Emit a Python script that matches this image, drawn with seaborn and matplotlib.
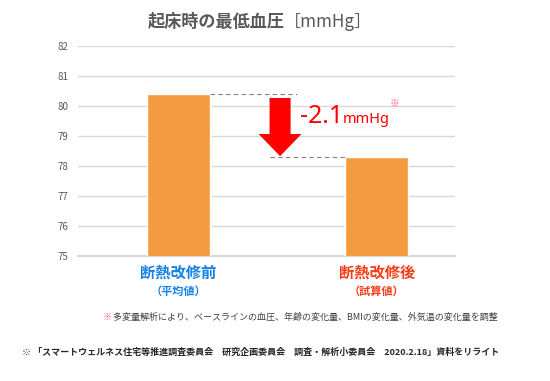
"""起床時の最低血圧: 断熱改修前後の比較棒グラフ."""

import matplotlib.pyplot as plt
import pandas as pd
import seaborn as sns
from matplotlib.patches import FancyArrow
from matplotlib.transforms import blended_transform_factory

# data
categories = ["断熱改修前", "断熱改修後"]
sub_labels = ["（平均値）", "（試算値）"]
values = [80.4, 78.3]
y_ticks = [75, 76, 77, 78, 79, 80, 81, 82]

title_main = "起床時の最低血圧"
title_unit = "［mmHg］"
note_1 = " 多変量解析により、ベースラインの血圧、年齢の変化量、BMIの変化量、外気温の変化量を調整"
note_2 = "※ 「スマートウェルネス住宅等推進調査委員会　研究企画委員会　調査・解析小委員会　2020.2.18」資料をリライト"

BAR_COLOR = "#F29B41"
LABEL_COLORS = ["#1682E3", "#F53D17"]
GRAY = "#595959"
RED = "#FF0000"
PINK = "#FF5C86"

sns.set_theme(style="white")
plt.rcParams["font.family"] = ["Noto Sans CJK JP", "DejaVu Sans"]

df = pd.DataFrame({"group": categories, "value": values})

fig = plt.figure(figsize=(5.5, 3.81), dpi=100)
ax = fig.add_axes([0.1418, 0.328, 0.6855, 0.551])

bar_w = 0.317
sns.barplot(data=df, x="group", y="value", color=BAR_COLOR, width=bar_w,
            saturation=1, ax=ax, zorder=3)

ax.set_ylim(y_ticks[0], y_ticks[-1])
ax.set_xlim(-0.506, 1.395)
ax.set_yticks(y_ticks)
ax.set_yticklabels([str(t) for t in y_ticks], fontsize=7, color=GRAY)
ax.tick_params(axis="y", length=0, pad=7)
ax.tick_params(axis="x", length=0)
ax.set_xticklabels([])
ax.set_xlabel("")
ax.set_ylabel("")
ax.yaxis.grid(True, color="#D9D9D9", linewidth=1)
ax.set_axisbelow(True)
for side in ["top", "right", "left"]:
    ax.spines[side].set_visible(False)
ax.spines["bottom"].set_color("#D0D0D0")
ax.spines["bottom"].set_linewidth(1.2)

# category labels under the axis
trans = blended_transform_factory(ax.transData, ax.transAxes)
for i, (cat, sub) in enumerate(zip(categories, sub_labels)):
    ax.text(i, -0.08, cat, transform=trans, ha="center", va="center",
            fontsize=11, fontweight="bold", color=LABEL_COLORS[i])
    ax.text(i, -0.167, sub, transform=trans, ha="center", va="center",
            fontsize=8, fontweight="bold", color=LABEL_COLORS[i])

# difference annotation
before, after = values
ax.hlines(before, bar_w / 2, 0.60, colors="#7F7F7F", linestyles=(0, (4, 3)),
          linewidth=0.8, zorder=4)
ax.hlines(after, 0.46, 1 - bar_w / 2, colors="#7F7F7F",
          linestyles=(0, (4, 3)), linewidth=0.8, zorder=4)

arrow_x = 0.513
arrow_top = before - 0.13
arrow_tip = after + 0.03
ax.add_patch(FancyArrow(arrow_x, arrow_top, 0, arrow_tip - arrow_top,
                        width=0.106, head_width=0.217, head_length=0.74,
                        length_includes_head=True, color=RED, lw=0,
                        zorder=5))

diff = after - before
ax.text(0.615, 79.43, f"{diff:.1f}", ha="left", va="baseline", fontsize=18,
        color=RED, family=["Noto Sans", "DejaVu Sans"])
ax.text(0.83, 79.43, "mmHg", ha="left", va="baseline", fontsize=10.5,
        color=RED, family=["Noto Sans", "DejaVu Sans"])
ax.text(1.065, 80.25, "※", ha="left", va="top", fontsize=7, color=PINK)

# title
fig.text(148 / 550, 1 - 22 / 381, title_main, ha="left", va="center",
         fontsize=12.3, fontweight="bold", color=GRAY)
fig.text(284 / 550, 1 - 22 / 381, title_unit, ha="left", va="center",
         fontsize=12.3, color=GRAY)

# footnotes
fig.text(103 / 550, 1 - 317 / 381, "※", ha="left", va="center",
         fontsize=6.5, color=PINK)
fig.text(111 / 550, 1 - 317 / 381, note_1, ha="left", va="center",
         fontsize=6.5, color="#404040")
fig.text(22 / 550, 1 - 352 / 381, note_2, ha="left", va="center",
         fontsize=6.5, fontweight="bold", color="#262626")

fig.savefig("out.png", dpi=100)
